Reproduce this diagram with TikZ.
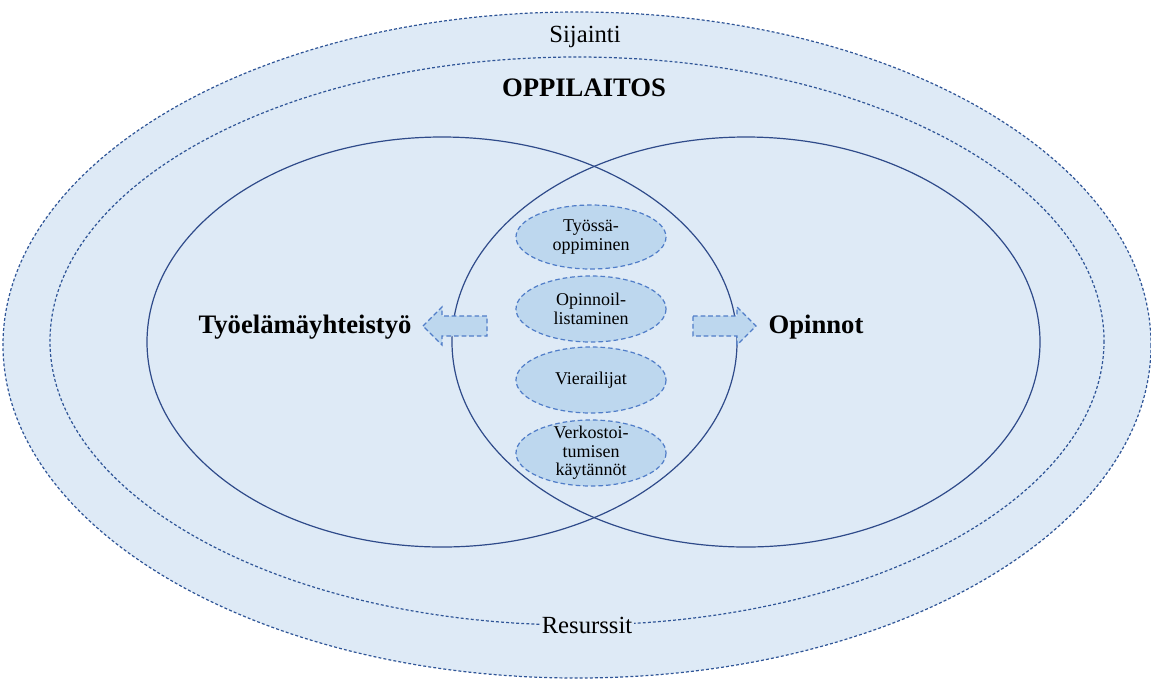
\documentclass[tikz,border=0pt]{standalone}
\usepackage{fontspec}
\setmainfont{Liberation Serif}
\usepackage{tikz}

\definecolor{bgblue}{RGB}{222,234,246}
\definecolor{cellblue}{RGB}{189,215,238}
\definecolor{dashblue}{RGB}{80,125,200}
\definecolor{dotblue}{RGB}{47,85,151}
\definecolor{ringblue}{RGB}{47,75,138}

\begin{document}
\begin{tikzpicture}[x=0.75pt,y=0.75pt,yscale=-1,xscale=1,
  zone/.style={fill=bgblue,draw=dotblue,line width=0.9pt,dash pattern=on 2.2pt off 1.6pt},
  ring/.style={draw=ringblue,line width=0.9pt},
  cell/.style={fill=cellblue,draw=dashblue,line width=0.9pt,dash pattern=on 3.5pt off 2.2pt},
  celltext/.style={align=center,font=\fontsize{13.5}{14}\selectfont,inner sep=0.75pt},
  bigtext/.style={font=\fontsize{20}{22}\selectfont\bfseries,inner sep=0.75pt}]
\useasboundingbox (0,0) rectangle (1151,679);

%Shape: Ellipse [Sijainti]
\draw [zone] (577,345) ellipse (574 and 333);
%Shape: Ellipse [Oppilaitos]
\draw [zone] (577,341) ellipse (527 and 284);

%Shape: Circle [Tyoelama]
\draw [ring] (442,342) ellipse (295 and 205);
%Shape: Circle [Opinnot]
\draw [ring] (746,342) ellipse (294 and 205);

%Shape: Ellipse
\draw [cell] (591,237) ellipse (75 and 32);
%Shape: Ellipse
\draw [cell] (591,309) ellipse (75 and 33);
%Shape: Ellipse
\draw [cell] (591,380) ellipse (75 and 33);
%Shape: Ellipse
\draw [cell] (591,453) ellipse (75 and 33);

%Left Arrow
\draw [cell] (423,326) -- (442,307) -- (442,316) -- (487,316) -- (487,336) -- (442,336) -- (442,345) -- cycle ;
%Right Arrow
\draw [cell] (693,316) -- (737,316) -- (737,307) -- (756,326) -- (737,345) -- (737,336) -- (693,336) -- cycle ;

% Text Node
\node (sijainti) at (585,37) [inner sep=0.75pt,font=\fontsize{18.5}{20}\selectfont] {Sijainti};
% Text Node
\node (oppilaitos) at (584,88) [bigtext] {OPPILAITOS};
% Text Node
\node (tyoelama) at (305,327) [bigtext] {Työelämäyhteistyö};
% Text Node
\node (opinnot) at (816,327) [bigtext] {Opinnot};
% Text Node
\node (resurssit) at (587,625) [fill=bgblue,inner sep=1pt,font=\fontsize{18.5}{20}\selectfont] {Resurssit};
% Text Node
\node (tyossa) at (591,237) [celltext] {Työssä-\\oppiminen};
% Text Node
\node (opinnoil) at (591,309) [celltext] {Opinnoil-\\listaminen};
% Text Node
\node (vierailijat) at (591,380) [celltext] {Vierailijat};
% Text Node
\node (verkosto) at (591,453) [celltext] {Verkostoi-\\tumisen\\käytännöt};

\end{tikzpicture}
\end{document}
